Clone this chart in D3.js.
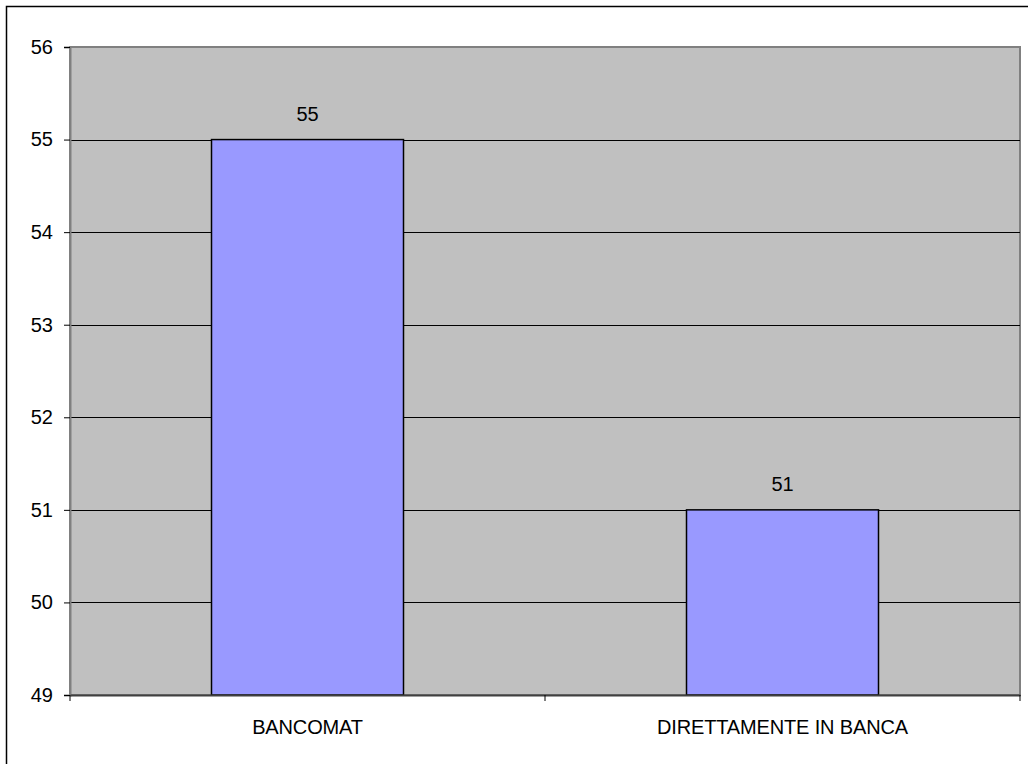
<!DOCTYPE html>
<html>
<head>
<meta charset="utf-8">
<script src="https://cdn.jsdelivr.net/npm/d3@7"></script>
<style>
  body { margin: 0; background: #fff; }
  svg { display: block; font-family: "Liberation Sans", Arial, sans-serif; }
</style>
</head>
<body>
<svg id="chart" width="1028" height="764"></svg>
<script>
const categories = ['BANCOMAT', 'DIRETTAMENTE IN BANCA'];
const values = [55, 51];
const yTicks = [49, 50, 51, 52, 53, 54, 55, 56];

const svg = d3.select('#chart');
const margin = {left: 70, top: 47, right: 1020, bottom: 695};
const fontSize = 20;

// outer frame
svg.append('rect')
  .attr('x', 6.5).attr('y', 6.5)
  .attr('width', 1030).attr('height', 770)
  .attr('fill', 'none').attr('stroke', '#000').attr('stroke-width', 1.5);

const x = d3.scaleBand()
  .domain(categories)
  .range([margin.left, margin.right])
  .paddingInner(0)
  .paddingOuter(0);

const y = d3.scaleLinear()
  .domain([49, 56])
  .range([margin.bottom, margin.top]);

// plot background
svg.append('rect')
  .attr('x', margin.left).attr('y', margin.top)
  .attr('width', margin.right - margin.left)
  .attr('height', margin.bottom - margin.top)
  .attr('fill', '#c0c0c0')
  .attr('stroke', '#808080').attr('stroke-width', 2);

// gridlines
svg.append('g')
  .selectAll('line')
  .data(yTicks.filter(d => d > 49 && d < 56))
  .enter()
  .append('line')
  .attr('x1', margin.left).attr('x2', margin.right)
  .attr('y1', d => Math.round(y(d)) + 0.5)
  .attr('y2', d => Math.round(y(d)) + 0.5)
  .attr('stroke', '#000').attr('stroke-width', 1);

// bars
const barW = 192;
svg.append('g')
  .selectAll('rect')
  .data(values)
  .enter()
  .append('rect')
  .attr('x', (d, i) => x(categories[i]) + x.bandwidth() / 2 - barW / 2)
  .attr('y', d => y(d))
  .attr('width', barW)
  .attr('height', d => y(49) - y(d))
  .attr('fill', '#9999ff')
  .attr('stroke', '#000').attr('stroke-width', 1.5);

// value labels
svg.append('g')
  .selectAll('text')
  .data(values)
  .enter()
  .append('text')
  .attr('x', (d, i) => x(categories[i]) + x.bandwidth() / 2)
  .attr('y', d => y(d) - 19)
  .attr('text-anchor', 'middle')
  .style('font-size', fontSize + 'px')
  .text(d => d);

// y axis
const yAxis = svg.append('g')
  .attr('transform', 'translate(' + margin.left + ',0)')
  .call(d3.axisLeft(y).tickValues(yTicks).tickSize(6).tickPadding(11).tickFormat(d3.format('d')));
yAxis.attr('font-size', null).attr('font-family', null);
yAxis.select('.domain').attr('stroke', '#808080').attr('stroke-width', 2);
yAxis.selectAll('.tick line').attr('stroke', '#000');
yAxis.selectAll('.tick text').style('font-size', fontSize + 'px').attr('fill', '#000');

// x axis
const xAxis = svg.append('g')
  .attr('transform', 'translate(0,' + margin.bottom + ')')
  .call(d3.axisBottom(x).tickSize(0).tickPadding(25));
xAxis.attr('font-size', null).attr('font-family', null);
xAxis.select('.domain').attr('stroke', '#404040').attr('stroke-width', 2);
xAxis.selectAll('.tick text').style('font-size', fontSize + 'px').attr('fill', '#000')
  .style('letter-spacing', '-0.15px');

// category separators
svg.append('g')
  .selectAll('line')
  .data([margin.left, margin.left + x.bandwidth(), margin.right])
  .enter()
  .append('line')
  .attr('x1', d => d).attr('x2', d => d)
  .attr('y1', margin.bottom).attr('y2', margin.bottom + 6)
  .attr('stroke', '#000').attr('stroke-width', 1);
</script>
</body>
</html>
